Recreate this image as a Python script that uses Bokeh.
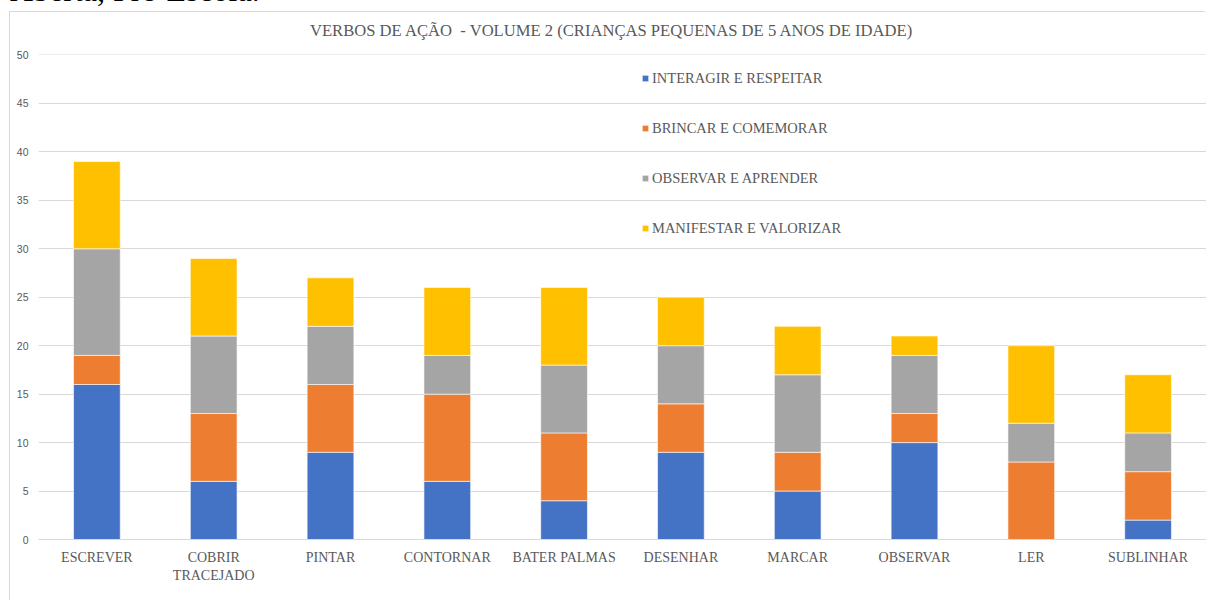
from bokeh.plotting import figure
from bokeh.models import Range1d, FactorRange, Legend, LegendItem, Div, FixedTicker, ColumnDataSource
from bokeh.layouts import column
from bokeh.embed import file_html
from bokeh.resources import INLINE

categories = ["ESCREVER", "COBRIR\nTRACEJADO", "PINTAR", "CONTORNAR", "BATER PALMAS",
              "DESENHAR", "MARCAR", "OBSERVAR", "LER", "SUBLINHAR"]
series = ["INTERAGIR E RESPEITAR", "BRINCAR E COMEMORAR", "OBSERVAR E APRENDER", "MANIFESTAR E VALORIZAR"]
interagir = [16, 6, 9, 6, 4, 9, 5, 10, 0, 2]
brincar = [3, 7, 7, 9, 7, 5, 4, 3, 8, 5]
observar = [11, 8, 6, 4, 7, 6, 8, 6, 4, 4]
manifestar = [9, 8, 5, 7, 8, 5, 5, 2, 8, 6]
colors = ["#4472C4", "#ED7D31", "#A5A5A5", "#FFC000"]
y_ticks = list(range(0, 51, 5))
chart_title = "VERBOS DE AÇÃO  - VOLUME 2 (CRIANÇAS PEQUENAS DE 5 ANOS DE IDADE)"
caption = "Aberta, Pré-Escola."

keys = ["s0", "s1", "s2", "s3"]
source = ColumnDataSource(data=dict(cat=categories, s0=interagir, s1=brincar, s2=observar, s3=manifestar))

p = figure(x_range=FactorRange(*categories), y_range=Range1d(0, 50.05),
           width=1196, height=589, output_backend="svg", toolbar_location=None,
           min_border_left=28, min_border_right=0, min_border_top=42, min_border_bottom=62,
           margin=(0, 0, 0, 10), styles={"box-shadow": "-1px -1px 0 0 #d9d9d9"})
p.outline_line_color = None
p.background_fill_color = "white"
p.border_fill_color = None

renderers = p.vbar_stack(keys, x="cat", width=0.4, color=colors, source=source,
                         line_color="white", line_width=0.6)

legend = Legend(items=[LegendItem(label=s, renderers=[r]) for s, r in zip(series, renderers)],
                location=(603, 301), orientation="vertical",
                glyph_width=8, glyph_height=8, label_height=20, spacing=30,
                padding=0, margin=0, border_line_color=None, background_fill_alpha=0,
                label_text_font="Liberation Serif", label_text_font_size="14.5px",
                label_text_color="#595959", label_standoff=3)
p.add_layout(legend)

p.yaxis.ticker = FixedTicker(ticks=y_ticks)
p.yaxis.axis_line_color = None
p.yaxis.major_tick_line_color = None
p.yaxis.major_tick_out = 0
p.yaxis.major_tick_in = 0
p.yaxis.minor_tick_line_color = None
p.yaxis.major_label_text_font = "Liberation Sans"
p.yaxis.major_label_text_font_size = "10.5px"
p.yaxis.major_label_text_color = "#595959"
p.yaxis.major_label_standoff = 10

p.xaxis.axis_line_color = "#d9d9d9"
p.xaxis.major_tick_line_color = None
p.xaxis.minor_tick_line_color = None
p.xaxis.major_label_text_font = "Liberation Serif"
p.xaxis.major_label_text_font_size = "14px"
p.xaxis.major_label_text_color = "#595959"
p.xaxis.major_label_standoff = 4

p.xgrid.grid_line_color = None
p.ygrid.grid_line_color = "#d9d9d9"
p.ygrid.grid_line_width = 1

header_html = (
    '<div style="position:absolute; left:10px; top:-26px; font-family:\'Liberation Serif\'; '
    'font-size:32px; line-height:32px; white-space:nowrap; color:#000;">' + caption + '</div>'
    '<div style="position:absolute; left:310px; top:23px; font-family:\'Liberation Serif\'; '
    'font-size:16.6px; line-height:16.6px; white-space:pre; color:#595959;">' + chart_title + '</div>'
)
div = Div(text=header_html, width=400, height=12, margin=(0, 0, 0, 0))

layout = column(div, p, spacing=0)
open("out.html", "w").write(file_html(layout, INLINE))
